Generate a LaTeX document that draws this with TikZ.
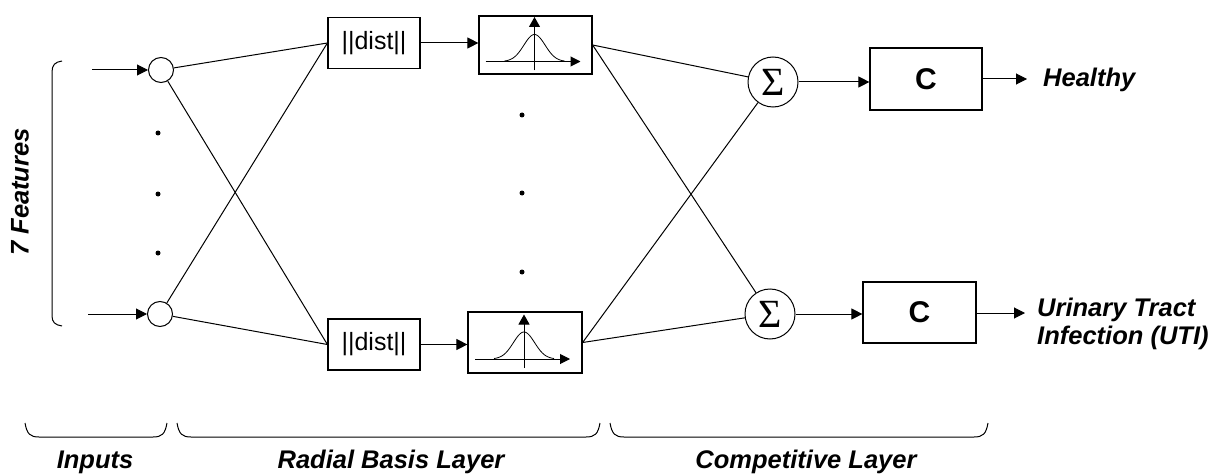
\documentclass[tikz,border=0pt]{standalone}
\usepackage{fontspec}
\setmainfont{Liberation Sans}
\newfontfamily\serifsig{Liberation Serif}
\usetikzlibrary{arrows.meta}
\newcommand\mybrace[2]{\draw[lw] (#1,423) .. controls ({#1+2},434) and ({#1+5},437) .. ({#1+14},437) -- ({#2-14},437) .. controls ({#2-5},437) and ({#2-2},434) .. (#2,423);}
\begin{document}
\begin{tikzpicture}[x=1pt,y=-1pt,
 lw/.style={line width=1pt},
 inp/.style={circle,draw,line width=1pt,minimum size=25pt,inner sep=0},
 sig/.style={circle,draw,line width=1pt,minimum size=50pt,inner sep=0,font=\serifsig\fontsize{40}{40}\selectfont},
 boxx/.style={draw,line width=1.2pt,inner sep=0},
 arr/.style={line width=1pt,-{Triangle[length=11pt,width=11pt]}},
 lab/.style={font=\fontsize{25.5}{28}\selectfont\bfseries\itshape,inner sep=0},
 dot/.style={circle,fill,inner sep=0,minimum size=5pt}]
\useasboundingbox (0,0) rectangle (1215,476);
% inputs
\node[inp] (in1) at (161,70) {};
\node[inp] (in2) at (160,314) {};
\coordinate (f1) at (92,70);
\coordinate (f2) at (88,314);
\draw[arr] (f1) -- (in1);
\draw[arr] (f2) -- (in2);
\node[dot] (p1) at (158,133) {};
\node[dot] (p2) at (158,194) {};
\node[dot] (p3) at (158,253) {};
% dist boxes
\node[boxx,minimum width=92pt,minimum height=51pt,font=\fontsize{25}{25}\selectfont] (d1) at (374,43) {||dist||};
\node[boxx,minimum width=92pt,minimum height=51pt,font=\fontsize{25}{25}\selectfont] (d2) at (374,344.5) {||dist||};
% gaussian boxes
\node[boxx,minimum width=113pt,minimum height=58pt] (g1) at (535.5,45) {};
\node[boxx,minimum width=114pt,minimum height=61pt] (g2) at (525,342.5) {};
\foreach \g in {g1,g2}{
 \begin{scope}[shift={(\g.center)}]
  \draw[line width=1pt,-{Triangle[length=10pt,width=10pt]}] (-50,16.5) -- (45,16.5);
  \draw[line width=1pt,-{Triangle[length=10pt,width=11pt]}] (-1,25.5) -- (-1,-28);
  \draw[line width=0.8pt] plot[domain=-30:30,samples=60,smooth] ({\x-1},{16.5-27*exp(-(\x/15)^2)});
 \end{scope}
}
\node[dot] (q1) at (522,115) {};
\node[dot] (q2) at (522,193) {};
\node[dot] (q3) at (522,272) {};
% sums
\node[sig] (s1) at (773,82) {Σ};
\node[sig] (s2) at (770,314) {Σ};
% C boxes
\node[boxx,minimum width=112pt,minimum height=62pt,font=\bfseries\fontsize{30}{30}\selectfont] (c1) at (926,79) {C};
\node[boxx,minimum width=113pt,minimum height=61pt,font=\bfseries\fontsize{30}{30}\selectfont] (c2) at (919.5,312.5) {C};
% connections
\draw[lw] (in1) -- (d1.west);
\draw[lw] (in1) -- (d2.west);
\draw[lw] (in2) -- (d1.west);
\draw[lw] (in2) -- (d2.west);
\draw[arr] (d1.east) -- (g1.west |- d1.east);
\draw[arr] (d2.east) -- (g2.west |- d2.east);
\draw[lw] (g1.east) -- (s1);
\draw[lw] (g1.east) -- (s2);
\draw[lw] (g2.east) -- (s1);
\draw[lw] (g2.east) -- (s2);
\draw[arr] (s1.east) -- (c1.west |- s1.east);
\draw[arr] (s2.east) -- (c2.west |- s2.east);
\coordinate (o1) at (1027,79);
\coordinate (o2) at (1025,313);
\draw[arr] (c1.east) -- (o1);
\draw[arr] (c2.east |- o2) -- (o2);
% outputs
\node[lab,anchor=west] (h) at (1043,80) {Healthy};
\node[lab,anchor=west,align=left] (u) at (1037,324) {Urinary Tract\\Infection (UTI)};
% left bracket
\draw[lw] (62,61) .. controls (55,62) and (52,65) .. (52,72) -- (52,316) .. controls (52,322) and (55,325) .. (62,326);
\node[lab,rotate=90] (feat) at (20,192) {7 Features};
% bottom braces
\mybrace{25}{167}
\mybrace{177}{600}
\mybrace{610}{988}
\node[lab] (l1) at (95,462) {Inputs};
\node[lab] (l2) at (391,462) {Radial Basis Layer};
\node[lab] (l3) at (806,462) {Competitive Layer};
\end{tikzpicture}
\end{document}
